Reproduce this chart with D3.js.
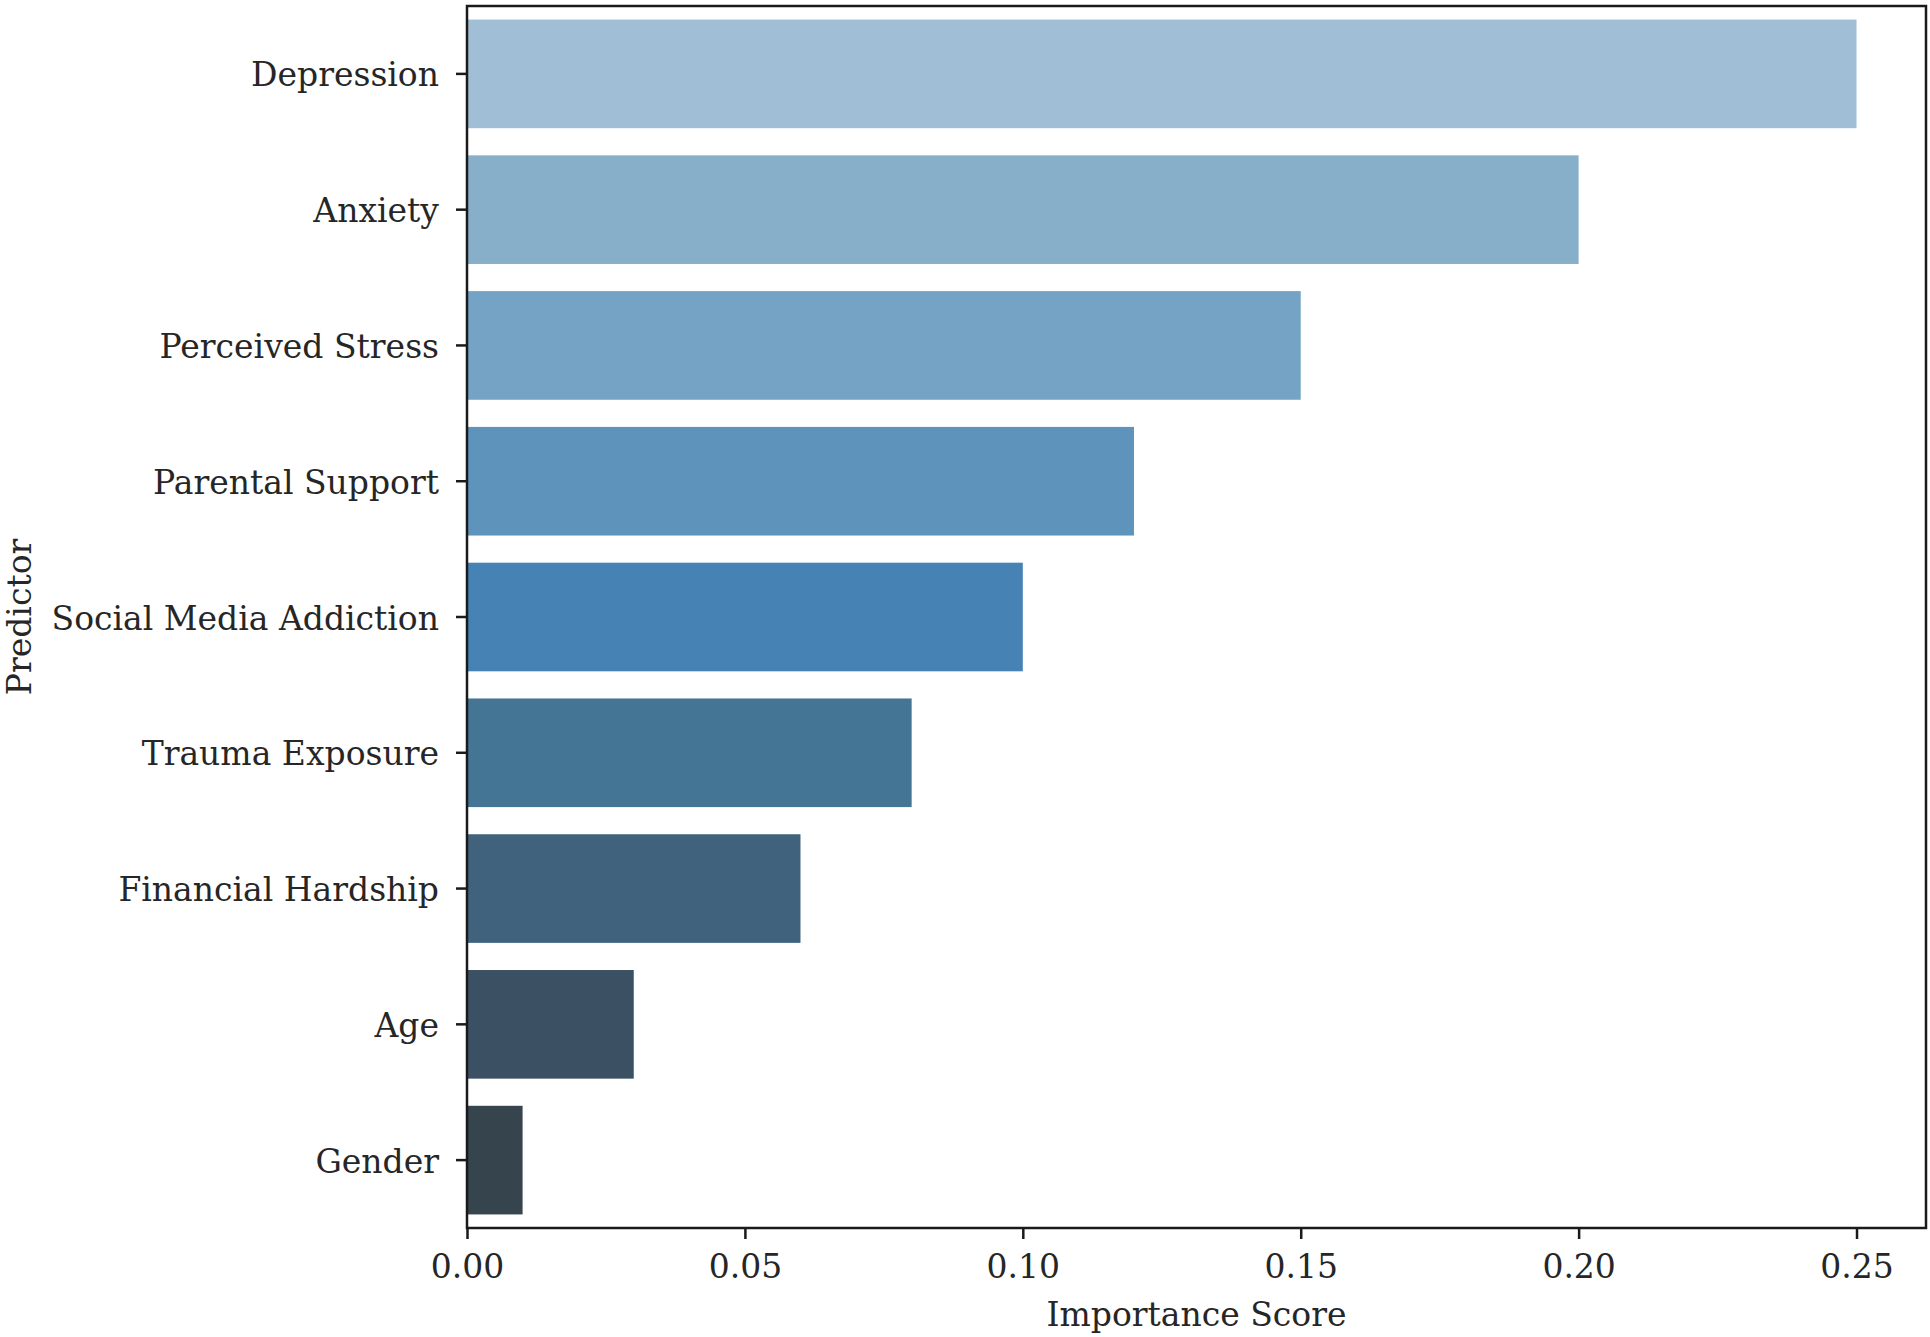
<!DOCTYPE html>
<html>
<head>
<meta charset="utf-8">
<script src="https://cdn.jsdelivr.net/npm/d3@7"></script>
<style>
  body { margin: 0; background: #fff; }
  svg { display: block; }
  text { font-family: "DejaVu Serif", "Liberation Serif", serif; fill: #262626; }
</style>
</head>
<body>
<svg id="chart"></svg>
<script>
let predictors = ['Depression', 'Anxiety', 'Perceived Stress', 'Parental Support',
    'Social Media Addiction', 'Trauma Exposure', 'Financial Hardship', 'Age', 'Gender'];
let importance = [0.25, 0.20, 0.15, 0.12, 0.10, 0.08, 0.06, 0.03, 0.01];
let xTicks = [0.00, 0.05, 0.10, 0.15, 0.20, 0.25];

let barColors = ['#a0bfd6', '#88afca', '#74a3c5', '#5e93bb', '#4682b4',
    '#457595', '#40627c', '#3c5064', '#36444d'];

let width = 1930, height = 1337;
let margin = {top: 6, right: 4, bottom: 109, left: 467};
let innerW = width - margin.left - margin.right;
let innerH = height - margin.top - margin.bottom;
let fontSize = 33;

let svg = d3.select('#chart').attr('width', width).attr('height', height);
let g = svg.append('g').attr('transform', `translate(${margin.left},${margin.top})`);

// matplotlib style: 5% margin on the right, sticky at zero
let x = d3.scaleLinear()
    .domain([0, d3.max(importance) * 1.05])
    .range([0, innerW]);

let y = d3.scaleBand()
    .domain(predictors)
    .range([0, innerH])
    .paddingInner(0.2)
    .paddingOuter(0.1);

g.selectAll('rect.bar')
    .data(predictors)
    .join('rect')
    .attr('class', 'bar')
    .attr('x', x(0))
    .attr('y', d => y(d))
    .attr('width', (d, i) => x(importance[i]) - x(0))
    .attr('height', y.bandwidth())
    .attr('fill', (d, i) => barColors[i]);

// frame
g.append('rect')
    .attr('width', innerW)
    .attr('height', innerH)
    .attr('fill', 'none')
    .attr('stroke', '#1a1a1a')
    .attr('stroke-width', 2.5);

let xAxis = g.append('g')
    .attr('transform', `translate(0,${innerH})`)
    .call(d3.axisBottom(x).tickValues(xTicks).tickFormat(d3.format('.2f'))
        .tickSize(11).tickPadding(16));

let yAxis = g.append('g')
    .call(d3.axisLeft(y).tickSize(11).tickPadding(17));

[xAxis, yAxis].forEach(a => {
    a.select('.domain').remove();
    a.selectAll('.tick line').attr('stroke', '#1a1a1a').attr('stroke-width', 2.5);
    a.selectAll('.tick text')
        .style('font-family', '"DejaVu Serif", "Liberation Serif", serif')
        .style('font-size', fontSize + 'px')
        .attr('fill', '#262626');
});
yAxis.selectAll('.tick text').attr('dy', '0.38em');

svg.append('text')
    .attr('x', margin.left + innerW / 2)
    .attr('y', 1326)
    .attr('text-anchor', 'middle')
    .style('font-size', fontSize + 'px')
    .text('Importance Score');

svg.append('text')
    .attr('transform', `translate(31,${margin.top + innerH / 2}) rotate(-90)`)
    .attr('text-anchor', 'middle')
    .style('font-size', fontSize + 'px')
    .text('Predictor');
</script>
</body>
</html>
